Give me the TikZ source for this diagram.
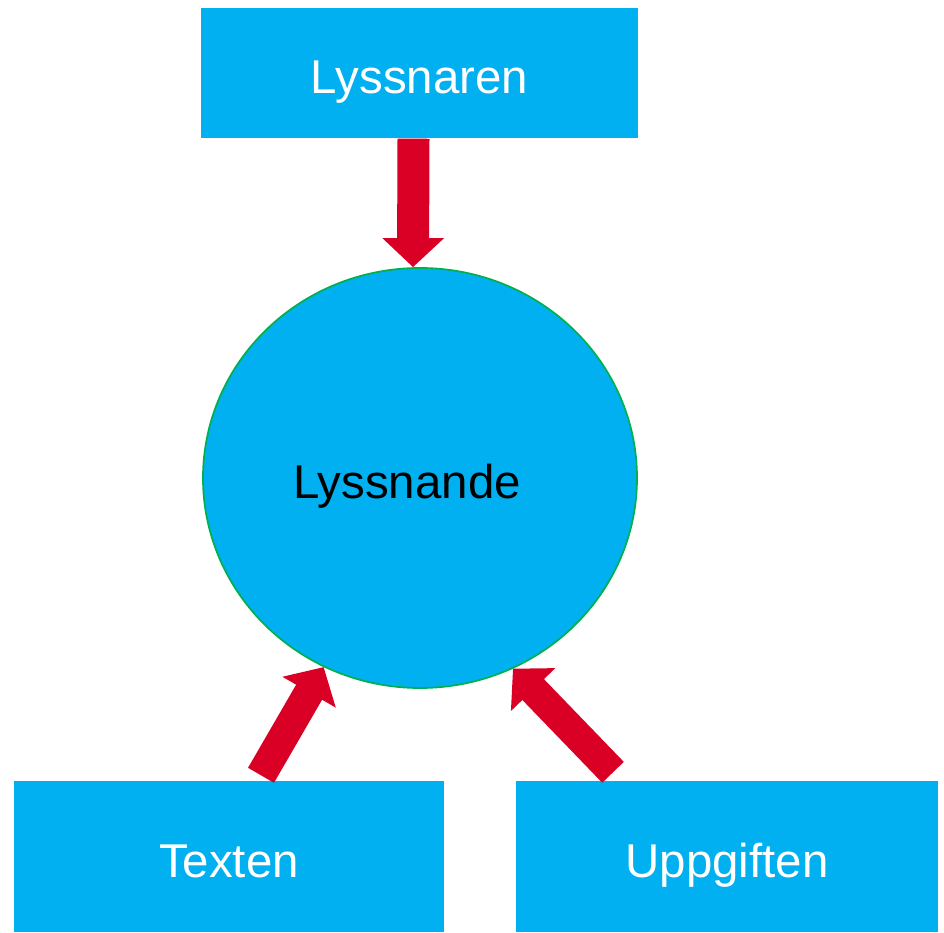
\documentclass[tikz,border=0pt]{standalone}
\usepackage{fontspec}
\setmainfont{Liberation Sans}
\usetikzlibrary{arrows.meta, positioning, shapes.geometric}
\definecolor{boxblue}{RGB}{0,176,240}
\definecolor{arrowred}{RGB}{218,0,37}
\definecolor{rimgreen}{RGB}{0,176,80}

\begin{document}
\begin{tikzpicture}[
	boxtext/.style={
		font=\fontsize{13.5}{16}\selectfont,
		text height=13pt,
		text depth=1.2pt
	},
	box/.style={
		rectangle,
		fill=boxblue,
		text=white,
		boxtext,
		inner sep=0pt
	},
	fatarrow/.style={
		draw=arrowred,
		line width=0.3cm,
		-{Triangle[width=0.6cm,length=0.29cm]}
	}
]
	\useasboundingbox (0,0) rectangle (9.44,-9.33);
	\node[
		box,
		minimum width=4.37cm,
		minimum height=1.30cm
	] (listener) at (4.195,-0.73) {Lyssnaren};
	\node[
		ellipse,
		draw=rimgreen,
		fill=boxblue,
		line width=0.5pt,
		minimum width=4.34cm,
		minimum height=4.20cm,
		inner sep=0pt,
		label={[boxtext, xshift=-0.13cm]center:Lyssnande}
	] (listening) at (4.20,-4.78) {};
	\node[
		box,
		minimum width=4.30cm,
		minimum height=1.51cm
	] (texten) at (2.29,-8.565) {Texten};
	\node[
		box,
		minimum width=4.22cm,
		minimum height=1.51cm
	] (task) at (7.27,-8.565) {Uppgiften};
	\draw[
		fatarrow,
		line width=0.32cm
	] ([xshift=-0.06cm]listener.south) -- ([xshift=-0.07cm]listening.north);
	\draw[
		fatarrow
	] ([shift={(0.32,0.05)}]texten.north) -- (listening.243);
	\draw[
		fatarrow
	] ([shift={(-1.14,0.08)}]task.north) -- (listening.296);
\end{tikzpicture}
\end{document}
